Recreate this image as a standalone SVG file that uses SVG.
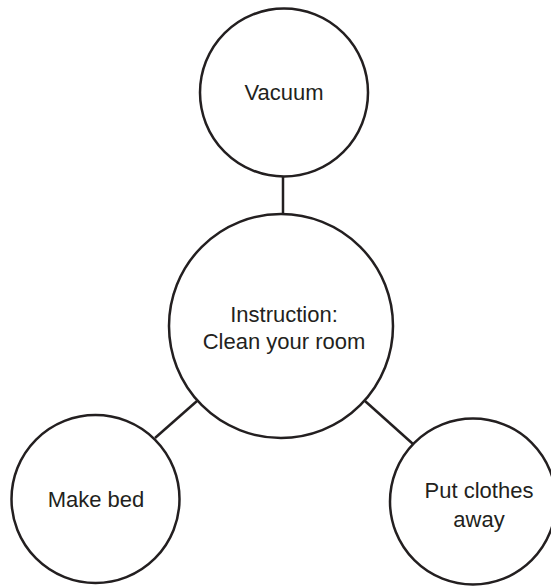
<svg xmlns="http://www.w3.org/2000/svg" width="551" height="586" viewBox="0 0 551 586">
<style>
.node{fill:#fff;stroke:#231f20;stroke-width:2.5}
.edge{stroke:#231f20;stroke-width:2.5;fill:none}
text{font-family:"Liberation Sans",Arial,sans-serif;font-size:22px;fill:#231f20;text-anchor:middle}
</style>
<rect width="551" height="586" fill="#fff"/>
<g id="connectors">
<line class="edge" x1="283" y1="176" x2="283" y2="214"/>
<line class="edge" x1="197" y1="401" x2="155" y2="438"/>
<line class="edge" x1="365" y1="401" x2="413" y2="444"/>
</g>
<g id="vacuum">
<circle class="node" cx="284" cy="92.5" r="84"/>
<text x="284" y="100">Vacuum</text>
</g>
<g id="instruction">
<circle class="node" cx="281" cy="326" r="112"/>
<text x="284" y="322">Instruction:</text>
<text x="284" y="349">Clean your room</text>
</g>
<g id="make-bed">
<circle class="node" cx="95.5" cy="499" r="84"/>
<text x="96" y="507">Make bed</text>
</g>
<g id="put-clothes-away">
<circle class="node" cx="473" cy="501.5" r="83"/>
<text x="479" y="498">Put clothes</text>
<text x="479" y="527">away</text>
</g>
</svg>
